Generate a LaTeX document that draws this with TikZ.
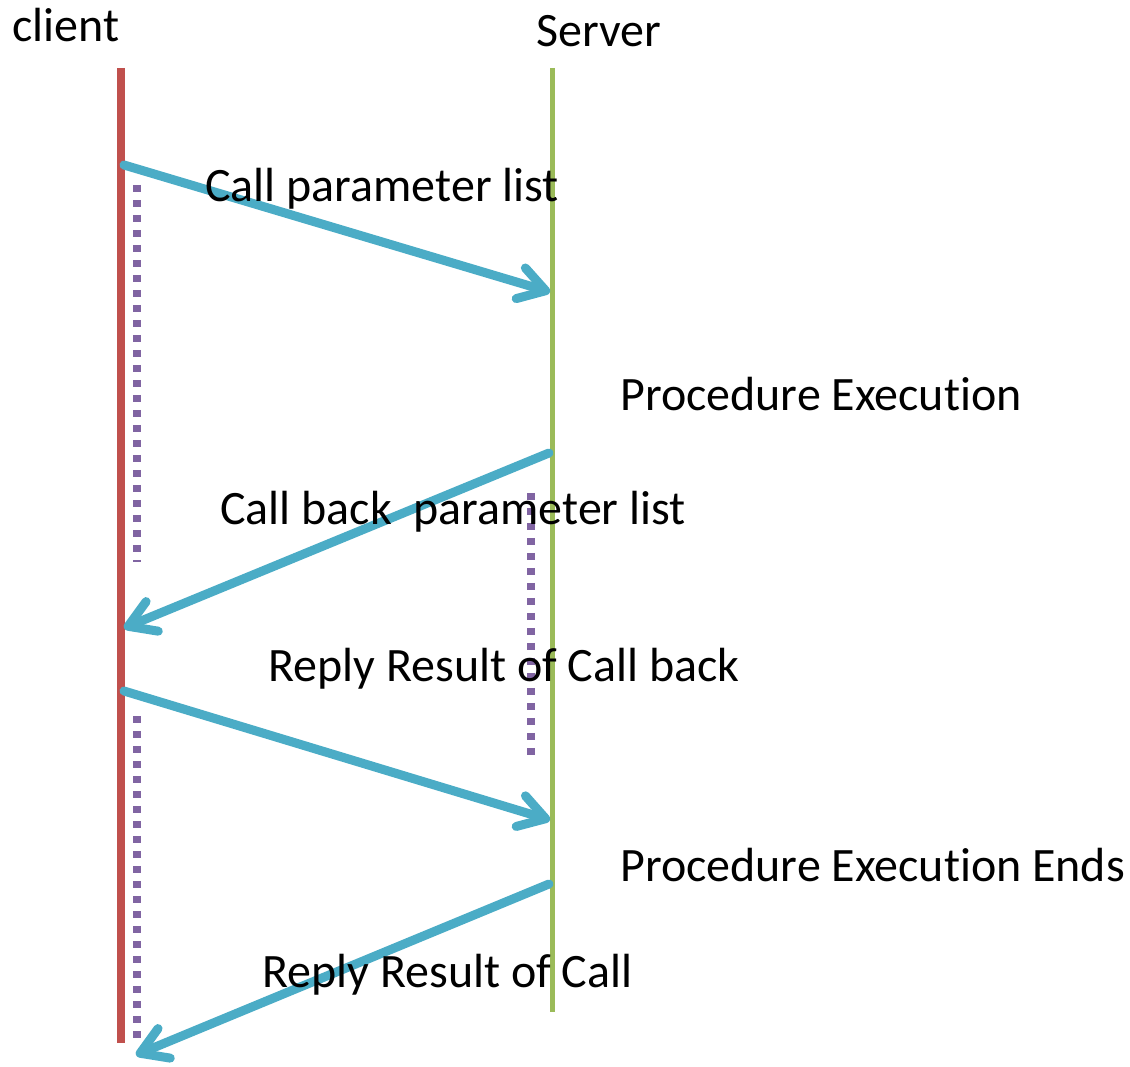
\documentclass[tikz,border=0pt]{standalone}
\usepackage{fontspec}
\setmainfont[Ligatures={NoCommon}]{Carlito}
\usetikzlibrary{arrows.meta}
\definecolor{cred}{HTML}{C0504D}
\definecolor{cgreen}{HTML}{9BBB59}
\definecolor{cblue}{HTML}{4BACC6}
\definecolor{cpurple}{HTML}{8064A2}
\tikzset{
  lbl/.style={anchor=base west, inner sep=0pt, font=\fontsize{27.3}{32}\selectfont},
  msg/.style={draw=cblue, line width=0.18cm, line cap=round,
    -{Straight Barb[length=0.52cm, width=0.64cm, line cap=round, line join=round]}},
  act/.style={draw=cpurple, line width=0.17cm, dash pattern=on 0.15cm off 0.15cm},
}
\begin{document}
\begin{tikzpicture}[x=0.02cm, y=-0.02cm]
\useasboundingbox (0,0) rectangle (1130,1067);
% lifelines
\coordinate (ctop) at (121,68);
\coordinate (cbot) at (121,1043);
\coordinate (stop) at (552,68);
\coordinate (sbot) at (552,1012);
\draw[cred, line width=0.16cm] (ctop) -- (cbot);
\draw[cgreen, line width=0.1cm] (stop) -- (sbot);
% activation bars
\coordinate (a1s) at (137,185);
\coordinate (a1e) at (137,562);
\coordinate (a2s) at (531,493);
\coordinate (a2e) at (531,756);
\coordinate (a3s) at (137,716);
\coordinate (a3e) at (137,1042);
\draw[act] (a1s) -- (a1e);
\draw[act] (a2s) -- (a2e);
\draw[act] (a3s) -- (a3e);
% message endpoints
\coordinate (m1s) at (124,165);
\coordinate (m1e) at (550,292);
\coordinate (m2s) at (549,453);
\coordinate (m2e) at (124,628);
\coordinate (m3s) at (124,691);
\coordinate (m3e) at (550,820);
\coordinate (m4s) at (549,884);
\coordinate (m4e) at (136,1055);
\draw[msg] (m1s) -- (m1e);
\draw[msg] (m2s) -- (m2e);
\draw[msg] (m3s) -- (m3e);
\draw[msg] (m4s) -- (m4e);
% labels
\node[lbl] (client) at (12,42) {client};
\node[lbl] (server) at (536,47) {Server};
\node[lbl] (t1) at (205,202) {Call parameter list};
\node[lbl] (t2) at (620,411) {Procedure Execution};
\node[lbl] (t3) at (220,525) {Call back\ \ parameter list};
\node[lbl] (t4) at (268,682) {Reply Result of Call back};
\node[lbl] (t5) at (620,881) {Procedure Execution Ends};
\node[lbl] (t6) at (262,987) {Reply Result of Call};
\end{tikzpicture}
\end{document}
